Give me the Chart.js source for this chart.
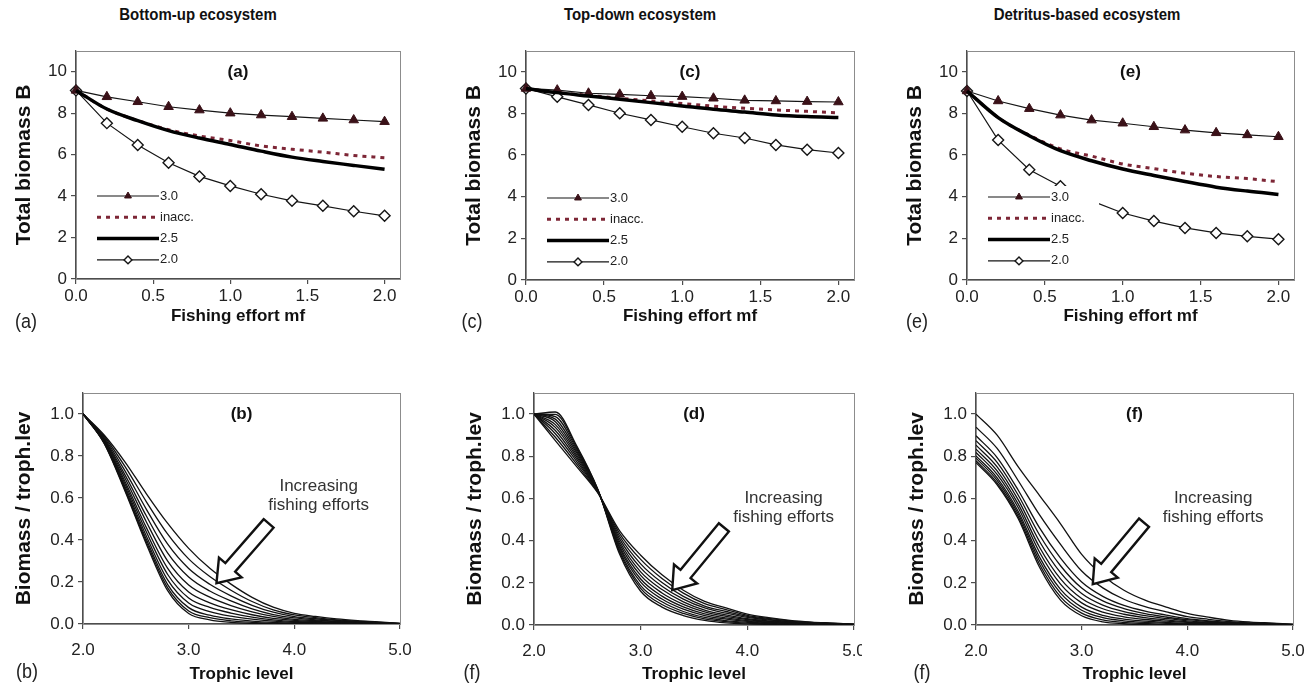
<!DOCTYPE html>
<html>
<head>
<meta charset="utf-8">
<title>Fishing effort and biomass</title>
<script src="https://cdn.jsdelivr.net/npm/chart.js@4.4.1/dist/chart.umd.min.js"></script>
<style>
  body { margin: 0; background: #fff; width: 1313px; height: 691px; overflow: hidden; position: relative;
         font-family: "Liberation Sans", Arial, sans-serif; color: #111; }
  canvas { position: absolute; }
  .col { position: absolute; top: 5px; font-weight: bold; font-size: 15px; transform: translateX(-50%) scaleY(1.15); white-space: nowrap; }
  .tag { position: absolute; font-size: 18px; color: #222; transform: translate(-50%, -50%) scaleY(1.15); }
</style>
</head>
<body>
<div class="col" style="left:198px">Bottom-up ecosystem</div>
<div class="col" style="left:640px">Top-down ecosystem</div>
<div class="col" style="left:1087px">Detritus-based ecosystem</div>

<canvas id="panelA" width="430" height="310" style="left:0;top:30px"></canvas>
<canvas id="panelC" width="420" height="310" style="left:450px;top:30px"></canvas>
<canvas id="panelE" width="422" height="310" style="left:891px;top:30px"></canvas>
<canvas id="panelB" width="430" height="321" style="left:0;top:370px"></canvas>
<canvas id="panelD" width="411" height="321" style="left:451px;top:370px"></canvas>
<canvas id="panelF" width="420" height="321" style="left:893px;top:370px"></canvas>

<div class="tag" style="left:26px;top:322px">(a)</div>
<div class="tag" style="left:472px;top:322px">(c)</div>
<div class="tag" style="left:917px;top:322px">(e)</div>
<div class="tag" style="left:27px;top:672px">(b)</div>
<div class="tag" style="left:472px;top:673px">(f)</div>
<div class="tag" style="left:922px;top:673px">(f)</div>

<script>
// ---- total biomass vs fishing effort (top row) ----
const fishingEffort = [0, 0.2, 0.4, 0.6, 0.8, 1.0, 1.2, 1.4, 1.6, 1.8, 2.0];
const effortTicks = [0, 0.5, 1.0, 1.5, 2.0];
const biomassTicks = [0, 2, 4, 6, 8, 10];

const bottomUp30 = [9.1, 8.79, 8.55, 8.31, 8.15, 8.0, 7.91, 7.83, 7.75, 7.67, 7.59];
const bottomUpInacc = [9.1, 8.2, 7.65, 7.2, 6.9, 6.68, 6.42, 6.26, 6.12, 5.96, 5.85];
const bottomUp25 = [9.1, 8.2, 7.64, 7.16, 6.8, 6.49, 6.17, 5.88, 5.67, 5.48, 5.29];
const bottomUp20 = [9.1, 7.52, 6.47, 5.61, 4.95, 4.49, 4.09, 3.77, 3.53, 3.27, 3.05];

const topDown30 = [9.2, 9.12, 8.97, 8.92, 8.85, 8.81, 8.73, 8.63, 8.6, 8.57, 8.55];
const topDownInacc = [9.2, 9.0, 8.87, 8.73, 8.6, 8.48, 8.35, 8.25, 8.17, 8.1, 8.03];
const topDown25 = [9.2, 9.0, 8.84, 8.68, 8.52, 8.36, 8.2, 8.07, 7.93, 7.85, 7.8];
const topDown20 = [9.2, 8.8, 8.41, 8.01, 7.69, 7.36, 7.05, 6.82, 6.49, 6.26, 6.1];

const detritus30 = [9.08, 8.6, 8.23, 7.92, 7.68, 7.53, 7.36, 7.2, 7.07, 6.97, 6.88];
const detritusInacc = [9.08, 7.8, 6.95, 6.3, 5.95, 5.57, 5.35, 5.13, 4.97, 4.87, 4.72];
const detritus25 = [9.08, 7.8, 6.93, 6.21, 5.73, 5.33, 5.02, 4.73, 4.46, 4.27, 4.11];
const detritus20 = [9.08, 6.72, 5.3, 4.5, 3.8, 3.22, 2.83, 2.5, 2.26, 2.1, 1.96];

// ---- biomass per trophic level, one profile per fishing effort (bottom row) ----
const trophicLevel = [2.0, 2.2, 2.4, 2.6, 2.8, 3.0, 3.2, 3.4, 3.6, 3.8, 4.0, 4.2, 4.4, 4.6, 4.8, 5.0];
const trophicTicks = [2, 3, 4, 5];
const shareTicks = [0, 0.2, 0.4, 0.6, 0.8, 1.0];

const bottomUpProfiles = [
  [1.00, 0.900, 0.770, 0.620, 0.480, 0.360, 0.265, 0.190, 0.127, 0.080, 0.051, 0.036, 0.024, 0.016, 0.010, 0.003],
  [1.00, 0.894, 0.748, 0.582, 0.429, 0.310, 0.226, 0.161, 0.107, 0.067, 0.043, 0.030, 0.020, 0.013, 0.008, 0.003],
  [1.00, 0.888, 0.727, 0.546, 0.381, 0.264, 0.189, 0.134, 0.089, 0.056, 0.035, 0.025, 0.017, 0.011, 0.007, 0.002],
  [1.00, 0.882, 0.708, 0.514, 0.339, 0.224, 0.157, 0.110, 0.072, 0.045, 0.029, 0.020, 0.013, 0.009, 0.006, 0.002],
  [1.00, 0.878, 0.692, 0.486, 0.301, 0.186, 0.128, 0.088, 0.058, 0.036, 0.022, 0.016, 0.011, 0.007, 0.004, 0.001],
  [1.00, 0.873, 0.676, 0.459, 0.266, 0.152, 0.101, 0.068, 0.044, 0.027, 0.017, 0.012, 0.008, 0.005, 0.003, 0.001],
  [1.00, 0.870, 0.664, 0.438, 0.237, 0.124, 0.079, 0.052, 0.033, 0.020, 0.012, 0.009, 0.006, 0.004, 0.002, 0.001],
  [1.00, 0.866, 0.652, 0.418, 0.211, 0.100, 0.059, 0.037, 0.023, 0.014, 0.008, 0.006, 0.004, 0.003, 0.002, 0.000],
  [1.00, 0.864, 0.643, 0.402, 0.189, 0.078, 0.042, 0.024, 0.014, 0.008, 0.005, 0.003, 0.002, 0.001, 0.001, 0.000],
  [1.00, 0.862, 0.636, 0.390, 0.173, 0.062, 0.030, 0.015, 0.008, 0.004, 0.002, 0.001, 0.001, 0.000, 0.000, 0.000],
  [1.00, 0.860, 0.630, 0.380, 0.160, 0.050, 0.020, 0.008, 0.003, 0.001, 0.000, 0.000, 0.000, 0.000, 0.000, 0.000]
];

const topDownProfiles = [
  [1.0, 0.874, 0.751, 0.625, 0.449, 0.331, 0.238, 0.165, 0.112, 0.081, 0.052, 0.035, 0.022, 0.014, 0.009, 0.004],
  [1.0, 0.890, 0.763, 0.627, 0.436, 0.311, 0.220, 0.151, 0.101, 0.073, 0.046, 0.031, 0.020, 0.012, 0.008, 0.004],
  [1.0, 0.907, 0.775, 0.629, 0.423, 0.290, 0.201, 0.136, 0.090, 0.064, 0.041, 0.027, 0.017, 0.011, 0.007, 0.003],
  [1.0, 0.922, 0.786, 0.631, 0.411, 0.271, 0.184, 0.123, 0.081, 0.056, 0.036, 0.024, 0.015, 0.009, 0.006, 0.003],
  [1.0, 0.937, 0.797, 0.632, 0.398, 0.252, 0.168, 0.110, 0.071, 0.048, 0.030, 0.020, 0.013, 0.008, 0.005, 0.002],
  [1.0, 0.950, 0.806, 0.634, 0.387, 0.235, 0.152, 0.098, 0.062, 0.041, 0.026, 0.017, 0.011, 0.007, 0.005, 0.002],
  [1.0, 0.964, 0.816, 0.636, 0.376, 0.218, 0.137, 0.086, 0.053, 0.034, 0.021, 0.014, 0.009, 0.005, 0.004, 0.001],
  [1.0, 0.976, 0.825, 0.637, 0.367, 0.203, 0.123, 0.075, 0.045, 0.028, 0.017, 0.011, 0.007, 0.004, 0.003, 0.001],
  [1.0, 0.988, 0.834, 0.638, 0.357, 0.187, 0.110, 0.064, 0.036, 0.021, 0.013, 0.008, 0.005, 0.003, 0.002, 0.001],
  [1.0, 0.999, 0.842, 0.640, 0.348, 0.174, 0.097, 0.055, 0.029, 0.016, 0.009, 0.006, 0.004, 0.002, 0.002, 0.000],
  [1.0, 1.010, 0.850, 0.641, 0.339, 0.160, 0.085, 0.045, 0.022, 0.010, 0.005, 0.003, 0.002, 0.001, 0.001, 0.000]
];

const detritusProfiles = [
  [1.000, 0.900, 0.750, 0.615, 0.480, 0.335, 0.235, 0.165, 0.118, 0.085, 0.055, 0.037, 0.022, 0.014, 0.009, 0.004],
  [0.938, 0.837, 0.684, 0.523, 0.382, 0.256, 0.176, 0.122, 0.087, 0.062, 0.040, 0.027, 0.016, 0.010, 0.007, 0.003],
  [0.897, 0.794, 0.639, 0.462, 0.317, 0.204, 0.136, 0.093, 0.066, 0.047, 0.030, 0.020, 0.012, 0.008, 0.005, 0.002],
  [0.874, 0.771, 0.615, 0.428, 0.281, 0.175, 0.114, 0.078, 0.054, 0.038, 0.025, 0.017, 0.010, 0.006, 0.004, 0.002],
  [0.853, 0.750, 0.593, 0.397, 0.248, 0.149, 0.094, 0.063, 0.044, 0.031, 0.020, 0.013, 0.008, 0.005, 0.003, 0.001],
  [0.834, 0.731, 0.573, 0.370, 0.219, 0.126, 0.077, 0.051, 0.035, 0.024, 0.015, 0.010, 0.006, 0.004, 0.003, 0.001],
  [0.818, 0.714, 0.556, 0.346, 0.194, 0.105, 0.061, 0.039, 0.026, 0.018, 0.012, 0.008, 0.005, 0.003, 0.002, 0.001],
  [0.802, 0.698, 0.538, 0.323, 0.169, 0.085, 0.046, 0.028, 0.018, 0.012, 0.008, 0.005, 0.003, 0.002, 0.001, 0.001],
  [0.791, 0.686, 0.526, 0.306, 0.151, 0.070, 0.035, 0.020, 0.012, 0.008, 0.005, 0.003, 0.002, 0.001, 0.001, 0.000],
  [0.779, 0.674, 0.514, 0.289, 0.133, 0.056, 0.024, 0.012, 0.007, 0.003, 0.002, 0.001, 0.001, 0.001, 0.000, 0.000],
  [0.770, 0.665, 0.504, 0.275, 0.118, 0.044, 0.015, 0.006, 0.002, 0.000, 0.000, 0.000, 0.000, 0.000, 0.000, 0.000]
];

const FONT = '"Liberation Sans", Arial, sans-serif';
const AXIS = '#4d4d4d';
Chart.defaults.font.family = FONT;
Chart.defaults.color = '#222';

// line style per trophic-level series (legend order)
const seriesStyle = {
  '3.0': { borderColor: '#151515', borderWidth: 1.2, pointStyle: 'triangle', pointRadius: 5.5,
           pointBackgroundColor: '#3a1118', pointBorderColor: '#3a1118', pointBorderWidth: 1, order: 1 },
  'inacc.': { borderColor: '#7d2636', borderWidth: 3, borderDash: [4, 5], pointRadius: 0,
              cubicInterpolationMode: 'monotone', order: 3 },
  '2.5': { borderColor: '#000', borderWidth: 3.5, pointRadius: 0, cubicInterpolationMode: 'monotone', order: 0 },
  '2.0': { borderColor: '#151515', borderWidth: 1.2, pointStyle: 'rectRot', pointRadius: 5.5,
           pointBackgroundColor: '#fff', pointBorderColor: '#151515', pointBorderWidth: 1.4, order: 2 }
};

function drawMarker(ctx, style, x, y, r, fill, stroke, lw) {
  ctx.beginPath();
  if (style === 'triangle') {
    ctx.moveTo(x, y - r);
    ctx.lineTo(x + r * 0.866, y + r * 0.5);
    ctx.lineTo(x - r * 0.866, y + r * 0.5);
  } else {
    ctx.moveTo(x, y - r);
    ctx.lineTo(x + r, y);
    ctx.lineTo(x, y + r);
    ctx.lineTo(x - r, y);
  }
  ctx.closePath();
  ctx.fillStyle = fill;
  ctx.fill();
  ctx.lineWidth = lw;
  ctx.strokeStyle = stroke;
  ctx.stroke();
}

// small boxed key inside the plot (white backing hides lines behind it)
function drawKey(chart, k) {
  const { ctx, chartArea: a } = chart;
  const x0 = a.left + k.dx, y0 = a.top + k.dy;
  ctx.fillStyle = '#fff';
  ctx.fillRect(x0 - 3, y0 - 11, k.boxW, k.gap * 3 + 22);
  chart.data.datasets.forEach((ds, i) => {
    const y = y0 + i * k.gap;
    ctx.save();
    ctx.strokeStyle = ds.borderColor;
    ctx.lineWidth = ds.borderWidth;
    ctx.setLineDash(ds.borderDash || []);
    ctx.beginPath();
    ctx.moveTo(x0, y);
    ctx.lineTo(x0 + k.sample, y);
    ctx.stroke();
    ctx.restore();
    if (ds.pointRadius > 0) {
      drawMarker(ctx, ds.pointStyle, x0 + k.sample / 2, y, ds.pointRadius * 0.72,
                 ds.pointBackgroundColor, ds.pointBorderColor, ds.pointBorderWidth);
    }
    ctx.fillStyle = '#222';
    ctx.font = '13px ' + FONT;
    ctx.textAlign = 'left';
    ctx.textBaseline = 'middle';
    ctx.fillText(ds.label, x0 + k.sample + 1, y);
  });
}

// hollow block arrow plus its caption, placed in axis units
function drawArrow(chart, ar) {
  const { ctx, scales: { x, y } } = chart;
  const tx = x.getPixelForValue(ar.tip[0]), ty = y.getPixelForValue(ar.tip[1]);
  const sx = x.getPixelForValue(ar.tail[0]), sy = y.getPixelForValue(ar.tail[1]);
  const len = Math.hypot(tx - sx, ty - sy);
  const ux = (tx - sx) / len, uy = (ty - sy) / len;
  const px = -uy, py = ux;
  const hw = ar.shaft / 2, hh = ar.head / 2;
  const bx = tx - ux * ar.headLen, by = ty - uy * ar.headLen;
  const pts = [
    [sx + px * hw, sy + py * hw], [bx + px * hw, by + py * hw], [bx + px * hh, by + py * hh],
    [tx, ty],
    [bx - px * hh, by - py * hh], [bx - px * hw, by - py * hw], [sx - px * hw, sy - py * hw]
  ];
  ctx.beginPath();
  pts.forEach((p, i) => (i ? ctx.lineTo(p[0], p[1]) : ctx.moveTo(p[0], p[1])));
  ctx.closePath();
  ctx.fillStyle = '#fff';
  ctx.fill();
  ctx.lineJoin = 'miter';
  ctx.lineWidth = 2.4;
  ctx.strokeStyle = '#111';
  ctx.stroke();

  ctx.fillStyle = '#333';
  ctx.font = '17px ' + FONT;
  ctx.textAlign = 'center';
  ctx.textBaseline = 'middle';
  const cx = x.getPixelForValue(ar.textAt[0]), cy = y.getPixelForValue(ar.textAt[1]);
  ar.text.forEach((line, i) => ctx.fillText(line, cx, cy + i * 19));
}

const panelDecor = {
  id: 'panelDecor',
  beforeDatasetsDraw(chart) {
    const { ctx, chartArea: a } = chart;
    ctx.save();
    ctx.strokeStyle = '#8c8c8c';
    ctx.lineWidth = 1;
    ctx.strokeRect(Math.round(a.left) + 0.5, Math.round(a.top) + 0.5,
                   Math.round(a.right - a.left), Math.round(a.bottom - a.top));
    ctx.restore();
  },
  afterDatasetsDraw(chart, args, opts) {
    const { ctx, chartArea: a } = chart;
    ctx.save();
    if (opts.key) drawKey(chart, opts.key);
    if (opts.arrow) drawArrow(chart, opts.arrow);
    ctx.font = 'bold 17px ' + FONT;
    ctx.fillStyle = '#111';
    ctx.textAlign = 'center';
    ctx.textBaseline = 'middle';
    ctx.fillText(opts.letter, (a.left + a.right) / 2, a.top + 21);
    ctx.restore();
  }
};

function axis(min, max, ticks, fmt, title, fit) {
  const horizontal = fit.height !== undefined;
  return {
    type: 'linear', min, max,
    afterBuildTicks: s => { s.ticks = ticks.map(v => ({ value: v })); },
    afterFit: s => {
      if (horizontal) { s.height = fit.height; s.paddingLeft = 0; s.paddingRight = 0; }
      else { s.width = fit.width; s.paddingTop = 0; s.paddingBottom = 0; }
    },
    grid: { drawOnChartArea: false, drawTicks: true, tickLength: 5, color: AXIS, lineWidth: 1.2 },
    border: { color: AXIS, width: 1.3 },
    ticks: { font: { size: 17 }, color: '#222', padding: fit.labelPad, autoSkip: false, maxRotation: 0,
             callback: fmt },
    title: {
      display: true, text: title, color: '#111',
      font: { size: horizontal ? 17 : 21, weight: 'bold' },
      padding: horizontal ? { top: 0, bottom: fit.titlePad } : { top: 12, bottom: 0 }
    }
  };
}

function baseOptions(geo, decor) {
  return {
    responsive: false,
    animation: false,
    events: [],
    layout: { padding: { left: 0, top: geo.pt, right: geo.pr, bottom: 0 } },
    plugins: { legend: { display: false }, tooltip: { enabled: false }, panelDecor: decor }
  };
}

function effortPanel(id, geo, letter, keyDy, s30, sInacc, s25, s20) {
  const series = [['3.0', s30], ['inacc.', sInacc], ['2.5', s25], ['2.0', s20]];
  const options = baseOptions(geo, { letter, key: { dx: 21, dy: keyDy, gap: 21.3, sample: 62, boxW: 114 } });
  options.scales = {
    x: axis(0, 2.1, effortTicks, v => v.toFixed(1), 'Fishing effort mf', { height: geo.xh, labelPad: 2, titlePad: 13 }),
    y: axis(0, 11, biomassTicks, v => String(v), 'Total biomass B', { width: geo.yw, labelPad: 4 })
  };
  new Chart(document.getElementById(id), {
    type: 'line',
    data: {
      datasets: series.map(([label, vals]) => Object.assign({
        label,
        data: fishingEffort.map((x, i) => ({ x, y: vals[i] })),
        clip: false,
        pointHoverRadius: 0
      }, seriesStyle[label]))
    },
    options,
    plugins: [panelDecor]
  });
}

function profilePanel(id, geo, letter, profiles, arrow) {
  const options = baseOptions(geo, { letter, arrow });
  options.scales = {
    x: axis(2, 5, trophicTicks, v => v.toFixed(1), 'Trophic level', { height: geo.xh, labelPad: 11, titlePad: 6 }),
    y: axis(0, 1.1, shareTicks, v => v.toFixed(1), 'Biomass / troph.lev', { width: geo.yw, labelPad: 4 })
  };
  new Chart(document.getElementById(id), {
    type: 'line',
    data: {
      datasets: profiles.map(p => ({
        data: trophicLevel.map((x, i) => ({ x, y: p[i] })),
        borderColor: '#111',
        borderWidth: 1.3,
        pointRadius: 0,
        pointHoverRadius: 0,
        cubicInterpolationMode: 'monotone'
      }))
    },
    options,
    plugins: [panelDecor]
  });
}

const caption = ['Increasing', 'fishing efforts'];

effortPanel('panelA', { yw: 76, pt: 21, pr: 30, xh: 61 }, '(a)', 145, bottomUp30, bottomUpInacc, bottomUp25, bottomUp20);
effortPanel('panelC', { yw: 76, pt: 21, pr: 16, xh: 60 }, '(c)', 147, topDown30, topDownInacc, topDown25, topDown20);
effortPanel('panelE', { yw: 76, pt: 21, pr: 19, xh: 60 }, '(e)', 146, detritus30, detritusInacc, detritus25, detritus20);

profilePanel('panelB', { yw: 83, pt: 23, pr: 30, xh: 67 }, '(b)', bottomUpProfiles,
  { tip: [3.263, 0.194], tail: [3.757, 0.479], shaft: 13, head: 30, headLen: 21, text: caption, textAt: [4.23, 0.654] });
profilePanel('panelD', { yw: 83, pt: 23, pr: 8, xh: 66 }, '(d)', topDownProfiles,
  { tip: [3.296, 0.165], tail: [3.78, 0.463], shaft: 13, head: 30, headLen: 21, text: caption, textAt: [4.34, 0.6] });
profilePanel('panelF', { yw: 83, pt: 23, pr: 20, xh: 66 }, '(f)', detritusProfiles,
  { tip: [3.105, 0.194], tail: [3.59, 0.485], shaft: 13, head: 30, headLen: 21, text: caption, textAt: [4.244, 0.6] });
</script>
</body>
</html>
